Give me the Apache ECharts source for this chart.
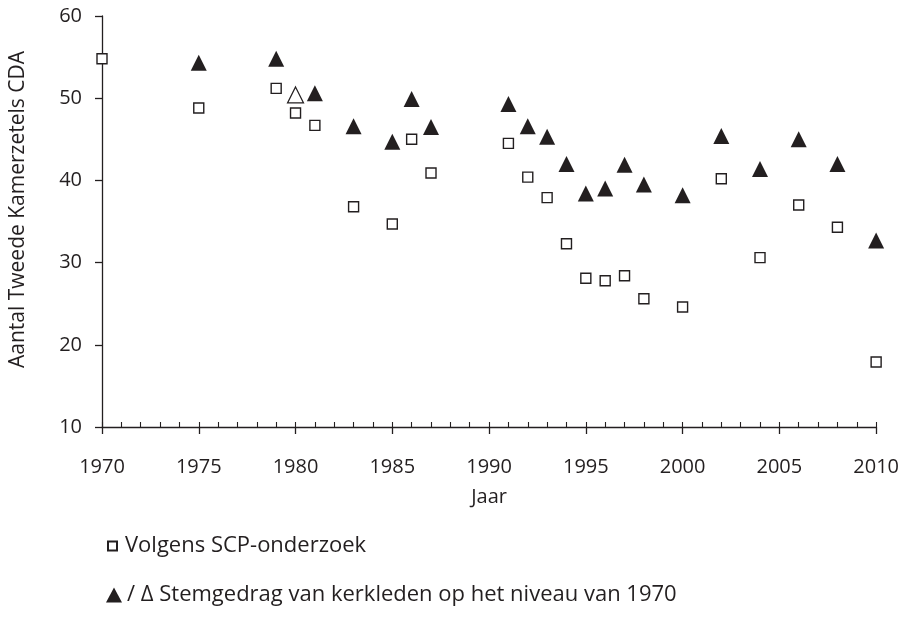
<!DOCTYPE html>
<html>
<head>
<meta charset="utf-8">
<title>Kamerzetels CDA</title>
<script src="https://cdn.jsdelivr.net/npm/echarts@6/dist/echarts.min.js"></script>
<style>
    html, body { margin: 0; padding: 0; background: #fff; }
    #container { width: 902px; height: 619px; }
</style>
</head>
<body>
<div id="container"></div>
<script>
    // SCP-onderzoek (open vierkantjes)
    var sqYears = [1970, 1975, 1979, 1980, 1981, 1983, 1985, 1986, 1987, 1991, 1992, 1993, 1994, 1995, 1996, 1997, 1998, 2000, 2002, 2004, 2006, 2008, 2010]
    var sqValues = [54.8, 48.8, 51.2, 48.2, 46.7, 36.8, 34.7, 45.0, 40.9, 44.5, 40.4, 37.9, 32.3, 28.1, 27.8, 28.4, 25.6, 24.6, 40.2, 30.6, 37.0, 34.3, 17.9]
    // stemgedrag kerkleden op niveau 1970 (dichte driehoekjes)
    var triYears = [1975, 1979, 1981, 1983, 1985, 1986, 1987, 1991, 1992, 1993, 1994, 1995, 1996, 1997, 1998, 2000, 2002, 2004, 2006, 2008, 2010]
    var triValues = [54.3, 54.8, 50.6, 46.6, 44.7, 49.9, 46.5, 49.3, 46.6, 45.3, 42.0, 38.4, 39.0, 41.9, 39.5, 38.2, 45.4, 41.4, 45.0, 42.0, 32.7]
    // open driehoekje
    var openYears = [1980]
    var openValues = [50.4]

    var yTicks = [10, 20, 30, 40, 50, 60]
    var xLabels = [1970, 1975, 1980, 1985, 1990, 1995, 2000, 2005, 2010]

    var sqName = 'Volgens SCP-onderzoek'
    var triName = 'Stemgedrag van kerkleden op het niveau van 1970'

    var ink = '#231f20'
    var font = 'Open Sans'

    function pairs(xs, ys){
        var out = []
        for(let i = 0; i < xs.length; i++){
            out.push([xs[i], ys[i]])
        }
        return out
    }

    var myChart = echarts.init(document.getElementById('container'), null, {renderer: 'canvas'})

    var option = {
        animation: false,
        backgroundColor: '#fff',
        textStyle: { fontFamily: font, color: ink },
        grid: { left: 102, right: 24, top: 16, bottom: 192, containLabel: false },
        legend: [{
            orient: 'vertical',
            left: 102,
            top: 530,
            itemWidth: 9,
            itemHeight: 9,
            itemGap: 8,
            selectedMode: false,
            textStyle: { fontFamily: font, fontSize: 22, color: ink, padding: [0, 0, 0, 3] },
            data: [sqName]
        },{
            orient: 'vertical',
            left: 101,
            top: 579,
            itemWidth: 16,
            itemHeight: 15,
            itemGap: 8,
            selectedMode: false,
            textStyle: { fontFamily: font, fontSize: 22, color: ink },
            formatter: function(name){
                return '/ \u0394 ' + name
            },
            data: [{ name: triName, icon: 'triangle' }]
        }],
        xAxis: [{
            type: 'value',
            min: 1970,
            max: 2010,
            interval: 5,
            name: 'Jaar',
            nameLocation: 'middle',
            nameGap: 60,
            nameTextStyle: { fontFamily: font, fontSize: 20, color: ink },
            axisLine: { lineStyle: { color: ink, width: 1.3 } },
            axisTick: { show: true, inside: false, length: 7, lineStyle: { color: ink, width: 1.3 } },
            axisLabel: {
                margin: 30,
                fontFamily: font,
                fontSize: 20,
                color: ink,
                formatter: function(v){ return xLabels.indexOf(v) >= 0 ? String(v) : '' }
            },
            splitLine: { show: false }
        },{
            // jaartallen: kleine streepjes naar binnen
            type: 'value',
            position: 'bottom',
            min: 1970,
            max: 2010,
            interval: 1,
            axisLine: { show: false },
            axisTick: { show: true, inside: true, length: 5, lineStyle: { color: ink, width: 1.1 } },
            axisLabel: { show: false },
            splitLine: { show: false }
        }],
        yAxis: {
            type: 'value',
            min: 10,
            max: 60,
            interval: 10,
            name: 'Aantal Tweede Kamerzetels CDA',
            nameLocation: 'middle',
            nameGap: 73,
            nameTextStyle: { fontFamily: font, fontSize: 21, color: ink, padding: [0, 0, 0, 24] },
            axisLine: { show: true, lineStyle: { color: ink, width: 1.3 } },
            axisTick: { show: true, inside: false, length: 7, lineStyle: { color: ink, width: 1.3 } },
            axisLabel: {
                margin: 20,
                fontFamily: font,
                fontSize: 20,
                color: ink,
                formatter: function(v){ return yTicks.indexOf(v) >= 0 ? String(v) : '' }
            },
            splitLine: { show: false }
        },
        series: [{
            name: sqName,
            type: 'scatter',
            symbol: 'rect',
            symbolSize: 10,
            itemStyle: { color: '#fff', borderColor: ink, borderWidth: 1.4, opacity: 1 },
            data: pairs(sqYears, sqValues),
            z: 3
        },{
            name: triName,
            type: 'scatter',
            symbol: 'triangle',
            symbolSize: [16, 16],
            itemStyle: { color: ink, opacity: 1 },
            data: pairs(triYears, triValues),
            z: 4
        },{
            name: 'open',
            type: 'scatter',
            symbol: 'triangle',
            symbolSize: [16, 16],
            itemStyle: { color: '#fff', borderColor: ink, borderWidth: 1.2, opacity: 1 },
            data: pairs(openYears, openValues),
            z: 4
        }]
    }

    myChart.setOption(option, true)
</script>
</body>
</html>
